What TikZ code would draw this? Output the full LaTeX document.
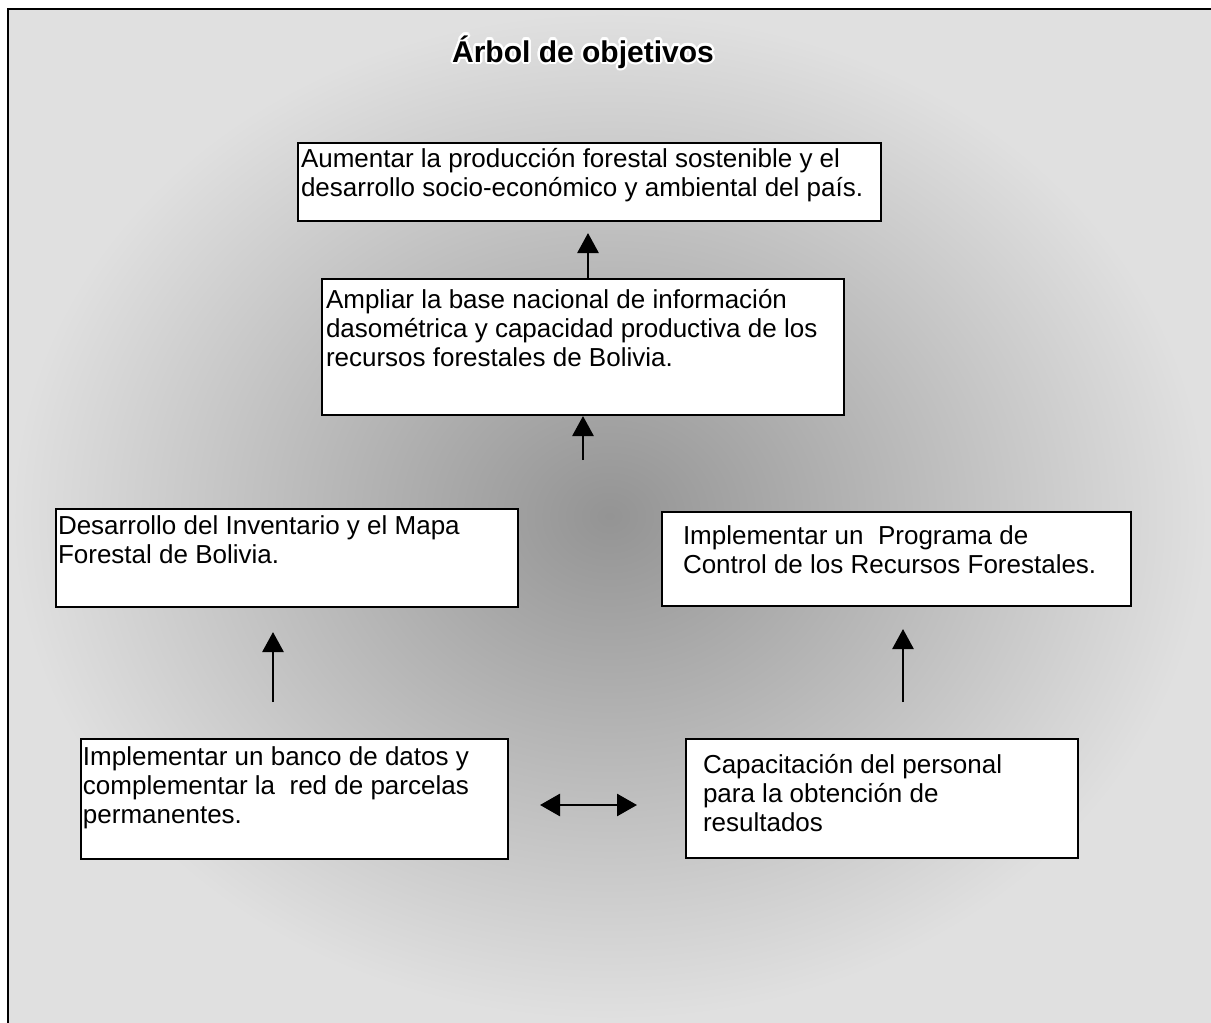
\documentclass[tikz,border=0pt]{standalone}
\usepackage{fontspec}
\setmainfont{Liberation Sans}
\usepackage{contour}
\contourlength{1.2pt}
\usetikzlibrary{arrows.meta, positioning}

\newcommand{\objtext}[3]{\parbox[t][#2][t]{#1}{\strut #3}}

\begin{document}
\begin{tikzpicture}[
  x=0.5pt, y=-0.5pt,
  font=\fontsize{13}{14.5}\selectfont,
  box/.style={draw, fill=white, line width=1pt, anchor=north west, inner xsep=1pt, inner ysep=2.5pt},
  arr/.style={-{Triangle[length=10pt,width=10.5pt]}, line width=1.4pt},
  dblarr/.style={{Triangle[length=10pt,width=11pt]}-{Triangle[length=10pt,width=11pt]}, line width=1.4pt}
]
\useasboundingbox (0,0) rectangle (1211,1023);
% fondo y marco
\fill[white] (0,0) rectangle (1211,1023);
\shade[inner color=black!42, outer color=black!12] (8,9) rectangle (1211,1023);
\draw[line width=1pt] (8,1023) -- (8,9) -- (1211,9);

\node[font=\fontsize{15}{17}\selectfont\bfseries, anchor=base] (titulo) at (583,62) {\contour{white}{Árbol de objetivos}};

% objetivos
\node[box, inner xsep=1.5pt, inner ysep=2.3pt] (fin) at (297,142) {\objtext{288.5pt}{34.4pt}{Aumentar la producción forestal sostenible y el\\desarrollo socio-económico y ambiental del país.}};
\node[box, inner xsep=2pt, inner ysep=4.35pt] (base) at (321,278) {\objtext{257pt}{59.3pt}{Ampliar la base nacional de información\\dasométrica y capacidad productiva de los\\recursos forestales de Bolivia.}};
\node[box, inner ysep=2.35pt] (inv) at (55,508) {\objtext{229pt}{44.3pt}{Desarrollo del Inventario y el Mapa\\Forestal de Bolivia.}};
\node[box, inner xsep=10.5pt, inner ysep=5.85pt] (ctrl) at (661,511) {\objtext{213.5pt}{35.3pt}{Implementar un\ \ Programa de\\Control de los Recursos Forestales.}};
\node[box, inner ysep=2.85pt] (banco) at (80,738) {\objtext{211.5pt}{54.3pt}{Implementar un banco de datos y\\complementar la\ \ red de parcelas\\permanentes.}};
\node[box, inner xsep=8.5pt, inner ysep=6.85pt] (capac) at (685,738) {\objtext{179pt}{45.8pt}{Capacitación del personal\\para la obtención de\\resultados}};

% flechas
\coordinate (p1) at (588,233);
\coordinate (p2) at (583,460);
\coordinate (p3a) at (273,702);
\coordinate (p3b) at (273,632);
\coordinate (p4a) at (903,702);
\coordinate (p4b) at (903,629);
\coordinate (p5a) at (540,805);
\coordinate (p5b) at (637,805);

\draw[arr] (base.north -| p1) -- (p1);
\draw[arr] (p2) -- (base.south -| p2);
\draw[arr] (p3a) -- (p3b);
\draw[arr] (p4a) -- (p4b);
\draw[dblarr] (p5a) -- (p5b);
\end{tikzpicture}
\end{document}
